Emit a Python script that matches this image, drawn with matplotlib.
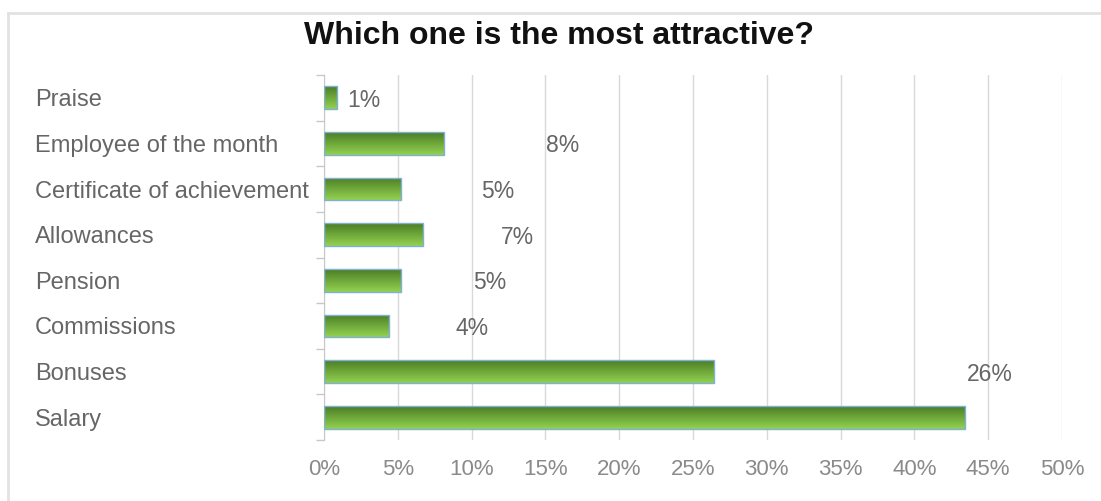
"""Horizontal bar chart: which reward is the most attractive (share of answers)."""
import numpy as np
import matplotlib
matplotlib.use("Agg")
import matplotlib.pyplot as plt
from matplotlib.colors import LinearSegmentedColormap
from matplotlib.lines import Line2D
from matplotlib.transforms import blended_transform_factory

plt.rcParams["font.family"] = ["Liberation Sans", "DejaVu Sans"]

# survey answers, top to bottom
categories = ["Praise", "Employee of the month", "Certificate of achievement",
              "Allowances", "Pension", "Commissions", "Bonuses", "Salary"]
shares = [0.9, 8.1, 5.2, 6.7, 5.2, 4.4, 26.4, 43.4]          # percent
# where each value label sits along the x axis (Salary has none)
label_pos = [2.7, 16.2, 11.75, 13.1, 11.2, 10.0, 45.1, None]
xticks = list(range(0, 55, 5))

W, H = 1101, 501
fig = plt.figure(figsize=(W / 100, H / 100), dpi=100)
ax = fig.add_axes([324 / W, 1 - 440 / H, (1062 - 324) / W, 365 / H])

# frame lines around the chart area
fig.add_artist(Line2D([8 / W, 1.0], [1 - 13 / H] * 2, transform=fig.transFigure,
                      color="#e2e2e2", lw=2))
fig.add_artist(Line2D([8 / W] * 2, [0, 1 - 13 / H], transform=fig.transFigure,
                      color="#e2e2e2", lw=2))

green = LinearSegmentedColormap.from_list("green", ["#4b7d26", "#6fa83a", "#93d151"])
grad = np.linspace(0, 1, 64).reshape(-1, 1)
bar_h = 0.5
ypos = np.arange(len(categories))

bars = ax.barh(ypos, shares, height=bar_h, color="none",
               edgecolor="#7fb0d6", linewidth=1.0, zorder=3)
for b, y, v in zip(bars, ypos, shares):
    im = ax.imshow(grad, cmap=green, aspect="auto", origin="upper",
                   extent=(0, v, y + bar_h / 2, y - bar_h / 2), zorder=2)
    im.set_clip_path(b)

for y, v, lx in zip(ypos, shares, label_pos):
    if lx is None:
        continue
    ax.text(lx, y, f"{v:.0f}%", ha="center", va="center_baseline",
            fontsize=16.5, color="#666666")

ax.set_xlim(0, 50)
ax.set_ylim(len(categories) - 0.5, -0.5)
ax.set_xticks(xticks)
ax.set_xticklabels([f"{t}%" for t in xticks])
ax.tick_params(axis="x", length=0, pad=14, labelsize=16, labelcolor="#8a8a8a")
ax.grid(axis="x", color="#d9d9d9", lw=1, zorder=0)

# category names sit left-aligned near the figure edge
ax.set_yticks(ypos)
ax.set_yticklabels([])
ax.tick_params(axis="y", which="major", length=0)
ax.set_yticks(np.arange(len(categories) + 1) - 0.5, minor=True)
ax.tick_params(axis="y", which="minor", length=6, width=1, color="#c8c8c8")
trans = blended_transform_factory(fig.transFigure, ax.transData)
for y, name in zip(ypos, categories):
    ax.text(35 / W, y, name, transform=trans, ha="left", va="center_baseline",
            fontsize=17, color="#666666")

for side in ["top", "right", "bottom"]:
    ax.spines[side].set_visible(False)
ax.spines["left"].set_color("#c8c8c8")

fig.text(559 / W, 1 - 32 / H, "Which one is the most attractive?", ha="center",
         va="center_baseline", fontsize=23, fontweight="bold", color="#111111")

fig.savefig("out.png", dpi=100)
